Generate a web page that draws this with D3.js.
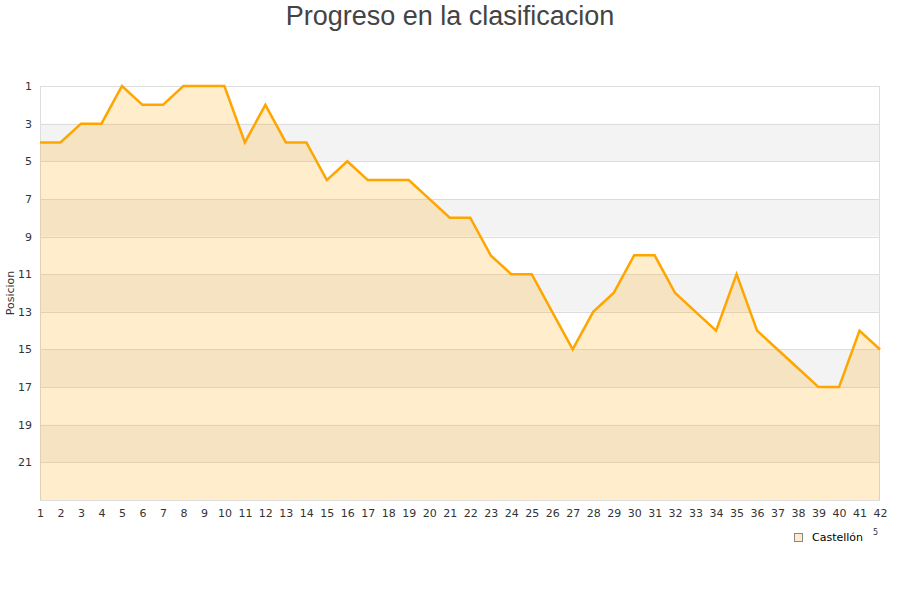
<!DOCTYPE html>
<html>
<head>
<meta charset="utf-8">
<script src="https://cdn.jsdelivr.net/npm/d3@7"></script>
<style>
  body { margin: 0; background: #fff; }
  text { font-family: "DejaVu Sans", sans-serif; }
</style>
</head>
<body>
<div id="chart"></div>
<script>
// ************ Data ************
var jornadas = d3.range(1, 43);
var posiciones = [4, 4, 3, 3, 1, 2, 2, 1, 1, 1, 4, 2, 4, 4, 6, 5, 6, 6, 6, 7,
                  8, 8, 10, 11, 11, 13, 15, 13, 12, 10, 10, 12, 13, 14, 11, 14, 15, 16, 17, 17,
                  14, 15];
var yTicks = [1, 3, 5, 7, 9, 11, 13, 15, 17, 19, 21];
var equipo = 'Castellón';

var data = jornadas.map(function(j, i) { return { j: j, p: posiciones[i] }; });

// ************ Layout ************
var width = 900, height = 600;
var plotLeft = 40, plotRight = 880, plotTop = 86, plotBottom = 500;

var svg = d3.select('#chart').append('svg')
            .attr('width', width)
            .attr('height', height);

var x = d3.scaleLinear().domain([1, 42]).range([plotLeft, plotRight]);
var y = d3.scaleLinear().domain([1, 23]).range([plotTop, plotBottom]);

// alternating bands
var bands = d3.range(1, 23, 2);
svg.selectAll('.band').data(bands).enter().append('rect')
   .attr('x', plotLeft)
   .attr('width', plotRight - plotLeft)
   .attr('y', function(d) { return y(d); })
   .attr('height', function(d) { return y(d + 2) - y(d); })
   .style('fill', function(d, i) { return i % 2 ? '#f3f3f3' : '#ffffff'; });

// grid lines
svg.selectAll('.grid').data(yTicks).enter().append('line')
   .attr('x1', plotLeft).attr('x2', plotRight)
   .attr('y1', function(d) { return Math.round(y(d)) + 0.5; })
   .attr('y2', function(d) { return Math.round(y(d)) + 0.5; })
   .style('stroke', '#dddddd')
   .style('stroke-width', 1);

// plot frame
svg.append('rect')
   .attr('x', plotLeft + 0.5).attr('y', plotTop + 0.5)
   .attr('width', plotRight - plotLeft - 1).attr('height', plotBottom - plotTop)
   .style('fill', 'none')
   .style('stroke', '#dddddd');

// area
var area = d3.area()
             .x(function(d) { return x(d.j); })
             .y0(y(23))
             .y1(function(d) { return y(d.p); });

svg.append('path')
   .datum(data)
   .attr('d', area)
   .style('fill', 'rgba(255,165,0,0.2)');

var line = d3.line()
             .x(function(d) { return x(d.j); })
             .y(function(d) { return y(d.p); });

svg.append('path')
   .datum(data)
   .attr('d', line)
   .style('fill', 'none')
   .style('stroke', '#ffa500')
   .style('stroke-width', 2.5)
   .style('stroke-linejoin', 'miter');

// y axis labels
var yAxis = d3.axisLeft(y).tickValues(yTicks).tickSize(0).tickPadding(8);
var gy = svg.append('g').attr('transform', 'translate(' + plotLeft + ',0)').call(yAxis);
gy.select('.domain').remove();
gy.selectAll('text').style('font-size', '11px').style('fill', '#333').style('font-family', '"DejaVu Sans", sans-serif');

// x axis labels
var xAxis = d3.axisBottom(x).tickValues(jornadas).tickFormat(d3.format('d')).tickSize(0).tickPadding(9);
var gx = svg.append('g').attr('transform', 'translate(0,' + plotBottom + ')').call(xAxis);
gx.select('.domain').remove();
gx.selectAll('text').style('font-size', '11px').style('fill', '#333').style('font-family', '"DejaVu Sans", sans-serif');

// title
svg.append('text')
   .attr('x', 450).attr('y', 25)
   .attr('text-anchor', 'middle')
   .style('font-family', '"Liberation Sans", Arial, sans-serif')
   .style('font-size', '27px')
   .style('fill', '#444')
   .text('Progreso en la clasificacion');

// y title
svg.append('text')
   .attr('transform', 'translate(14,' + 293 + ') rotate(-90)')
   .attr('text-anchor', 'middle')
   .style('font-size', '11px')
   .style('fill', '#333')
   .text('Posicion');

// legend
svg.append('rect')
   .attr('x', 794.5).attr('y', 533.5)
   .attr('width', 8).attr('height', 8)
   .style('fill', '#feeccc')
   .style('stroke', '#888')
   .style('stroke-width', 1);

svg.append('text')
   .attr('x', 812).attr('y', 541)
   .style('font-size', '11px')
   .style('fill', '#000')
   .text(equipo);

svg.append('text')
   .attr('x', 873).attr('y', 535)
   .style('font-size', '8px')
   .style('fill', '#333')
   .text('5');
</script>
</body>
</html>
